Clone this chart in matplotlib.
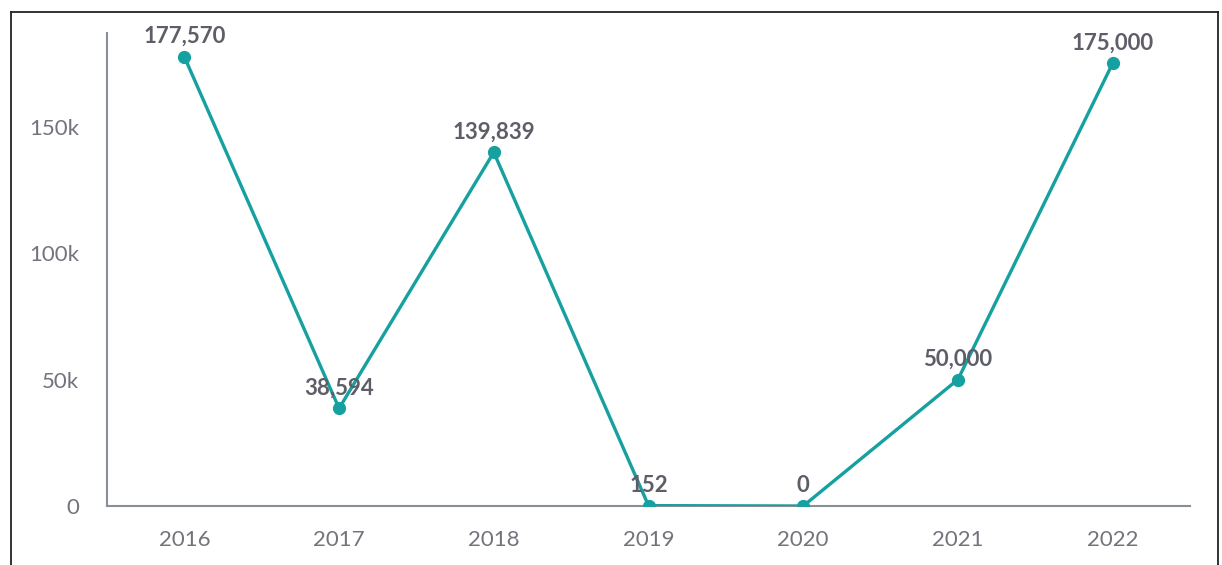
import matplotlib.pyplot as plt
from matplotlib.lines import Line2D
from matplotlib.ticker import FuncFormatter

years = ['2016', '2017', '2018', '2019', '2020', '2021', '2022']
values = [177570, 38594, 139839, 152, 0, 50000, 175000]

teal = '#16a0a0'
grey = '#73737d'

plt.rcParams['font.family'] = ['Lato', 'DejaVu Sans']

fig = plt.figure(figsize=(12.22, 5.65), dpi=100)
ax = fig.add_axes([107/1222, 1 - 506/565, (1190 - 107)/1222, (506 - 33)/565])

x = range(len(years))
ax.plot(x, values, color=teal, lw=2.4, marker='o', ms=8.5, zorder=3)

for xi, v in zip(x, values):
    ax.annotate(f'{v:,}', (xi, v), xytext=(0, 7), textcoords='offset points',
                ha='center', va='bottom', fontsize=16, fontweight='bold',
                color='#5e5e68', zorder=4)

ax.set_xlim(-0.5, 6.5)
ax.set_ylim(0, 187000)
ax.set_xticks(list(x))
ax.set_xticklabels(years)
ax.set_yticks([0, 50000, 100000, 150000])
ax.yaxis.set_major_formatter(FuncFormatter(lambda v, p: '0' if v == 0 else f'{int(v/1000)}k'))
ax.tick_params(length=0, labelsize=16, colors=grey)
ax.tick_params(axis='x', pad=17)
ax.tick_params(axis='y', pad=20)

for s in ['top', 'right']:
    ax.spines[s].set_visible(False)
for s in ['left', 'bottom']:
    ax.spines[s].set_color('#8a8e96')
    ax.spines[s].set_linewidth(1.5)

# outer frame
fx0, fx1, fy1 = 11/1222, 1218/1222, 1 - 12/565
for xs, ys in [([fx0, fx0], [0, fy1]), ([fx0, fx1], [fy1, fy1]), ([fx1, fx1], [fy1, 0])]:
    fig.add_artist(Line2D(xs, ys, color='#222222', lw=1.3, transform=fig.transFigure))

fig.savefig('out.png', dpi=100)
